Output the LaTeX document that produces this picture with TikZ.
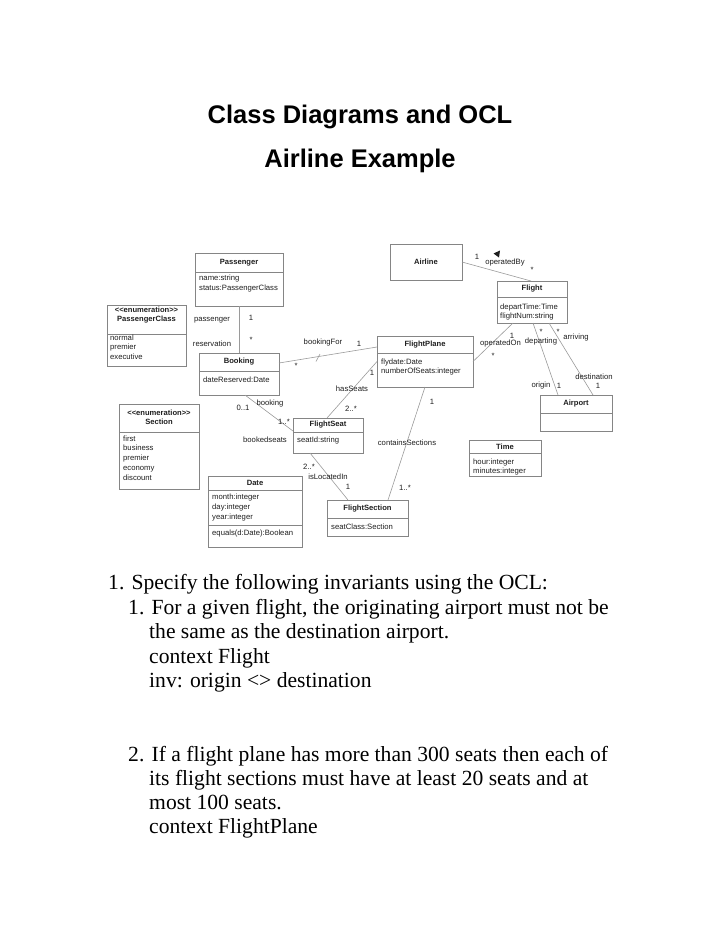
\documentclass[tikz,border=0pt]{standalone}
\usepackage{fontspec}
\setmainfont{Liberation Serif}
\newfontfamily\arialf{Liberation Sans}
\usetikzlibrary{calc}
\definecolor{boxgray}{HTML}{858585}
\definecolor{linegray}{HTML}{9A9A9A}
\definecolor{txt}{HTML}{1E1E1E}
\newcommand\uclass[6]{%
  \node[box, anchor=north west, minimum width={(#4)-(#2)}, minimum height={(#5)-(#3)}] (#1) at (#2,#3) {};
  \draw[sepline] (#2,#6) -- (#4,#6);}
\begin{document}
\begin{tikzpicture}[x=1pt,y=-1pt,
  box/.style={draw=boxgray, line width=0.7pt, inner sep=0pt, outer sep=0pt},
  sepline/.style={draw=boxgray, line width=0.7pt},
  cname/.style={font=\arialf\bfseries\fontsize{7.6}{9}\selectfont, text=txt, inner sep=0pt},
  attr/.style={font=\arialf\fontsize{7.7}{9.7}\selectfont, text=txt, inner sep=0pt, align=left, anchor=north west},
  lab/.style={font=\arialf\fontsize{7.7}{9}\selectfont, text=txt, inner sep=0pt},
  assoc/.style={draw=linegray, line width=0.6pt},
  body/.style={font=\fontsize{21.6}{24.5}\selectfont, text=black, inner sep=0pt, anchor=base west},
  ttl/.style={font=\arialf\bfseries\fontsize{25.5}{30}\selectfont, text=black, inner sep=0pt, anchor=base}
]
\useasboundingbox (0,0) rectangle (720,932);

% titles
\node[ttl] (title1) at (360,123) {Class Diagrams and OCL};
\node[ttl] (title2) at (360,167) {Airline Example};

% classes
\uclass{pass}{195}{253}{283}{306}{272}
\node[cname] (passT) at (239,262.5) {Passenger};
\node[attr] (passA) at (199,275) {name:string\\status:PassengerClass};

\uclass{pclass}{107}{305}{186}{366}{334}
\node[cname, align=center] (pclassT) at (146.5,315) {\bfseries<<enumeration>>\\PassengerClass};
\node[attr] (pclassA) at (110,334.5) {normal\\premier\\executive};

\uclass{book}{199}{353}{279}{395}{371}
\node[cname] (bookT) at (239,362) {Booking};
\node[attr] (bookA) at (203,376.5) {dateReserved:Date};

\uclass{airline}{390}{244}{462}{280}{280}
\node[cname] (airlineT) at (426,262) {Airline};

\uclass{fp}{377}{336}{473}{387}{353}
\node[cname] (fpT) at (425,345) {FlightPlane};
\node[attr] (fpA) at (381,358.5) {flydate:Date\\numberOfSeats:integer};

\uclass{flight}{497}{281}{567}{323}{297}
\node[cname] (flightT) at (532,289) {Flight};
\node[attr] (flightA) at (500,303.5) {departTime:Time\\flightNum:string};

\uclass{airport}{540}{395}{612}{431}{413}
\node[cname] (airportT) at (576,404) {Airport};

\uclass{time}{469}{440}{541}{476}{453}
\node[cname] (timeT) at (505,446.5) {Time};
\node[attr] (timeA) at (473,458.5) {hour:integer\\minutes:integer};

\uclass{section}{119}{404}{199}{489}{432}
\node[cname, align=center] (sectionT) at (159,417.5) {\bfseries<<enumeration>>\\Section};
\node[attr] (sectionA) at (123,435.5) {first\\business\\premier\\economy\\discount};

\uclass{date}{208}{476}{302}{547}{490}
\node[cname] (dateT) at (255,482.5) {Date};
\node[attr] (dateA) at (212,494) {month:integer\\day:integer\\year:integer};
\draw[sepline] (208,525) -- (302,525);
\node[attr] (dateM) at (212,529.5) {equals(d:Date):Boolean};

\uclass{seat}{293}{418}{363}{453}{432}
\node[cname] (seatT) at (328,424.5) {FlightSeat};
\node[attr] (seatA) at (297,436.5) {seatId:string};

\uclass{fsec}{327}{500}{408}{536}{518}
\node[cname] (fsecT) at (367.5,509) {FlightSection};
\node[attr] (fsecA) at (331,523.5) {seatClass:Section};

% associations
\draw[assoc] ($(pass.south west)+(44,0)$) -- ($(book.north west)+(40,0)$);
\node[lab] (l1) at (212,320) {passenger};
\node[lab] (l2) at (251,318) {1};
\node[lab] (l3) at (212,344) {reservation};
\node[lab] (l4) at (251,340) {*};

\draw[assoc] (airline.east) -- ($(flight.north west)+(34,0)$);
\node[lab] (l5) at (477,257) {1};
\node[lab] (l6) at (505,263) {operatedBy};
\node[lab] (l7) at (532,270) {*};
\fill[txt] (493.5,253.5) -- (500,250.5) -- (499,257.5) -- cycle;

\draw[assoc] ($(flight.south west)+(16,0)$) -- (fp.east);
\node[lab] (l8) at (512,336) {1};
\node[lab] (l9) at (500.5,344) {operatedOn};
\node[lab] (l10) at (493,356) {*};

\draw[assoc] ($(flight.south west)+(36,0)$) -- ($(airport.north west)+(18,0)$);
\node[lab] (l11) at (541,332) {*};
\node[lab] (l12) at (541,342) {departing};
\node[lab] (l13) at (541,386) {origin};
\node[lab] (l14) at (559,386) {1};

\draw[assoc] ($(flight.south west)+(52,0)$) -- ($(airport.north west)+(53,0)$);
\node[lab] (l15) at (558,332) {*};
\node[lab] (l16) at (576,338) {arriving};
\node[lab] (l17) at (594,377) {destination};
\node[lab] (l18) at (598,386) {1};

\draw[assoc] ($(book.north east)+(0,10)$) -- ($(fp.north west)+(0,11)$);
\draw[assoc] (316,361.5) -- (320,354);
\node[lab] (l19) at (323,343) {bookingFor};
\node[lab] (l20) at (359,344) {1};
\node[lab] (l21) at (296,366) {*};

\draw[assoc] (fp.west) -- ($(seat.north west)+(34,0)$);
\node[lab] (l22) at (372,373) {1};
\node[lab] (l23) at (352,389) {hasSeats};
\node[lab] (l24) at (351,409) {2..*};

\draw[assoc] ($(book.south west)+(46,0)$) -- ($(seat.north west)+(0,13)$);
\node[lab] (l25) at (243,408) {0..1};
\node[lab] (l26) at (270,404) {booking};
\node[lab] (l27) at (284,422) {1..*};
\node[lab] (l28) at (265,440) {bookedseats};

\draw[assoc] ($(seat.south west)+(17,0)$) -- ($(fsec.north west)+(21,0)$);
\node[lab] (l29) at (309,467) {2..*};
\node[lab] (l30) at (328,477) {isLocatedIn};
\node[lab] (l31) at (348,487) {1};

\draw[assoc] ($(fp.south west)+(48,0)$) -- ($(fsec.north west)+(61,0)$);
\node[lab] (l32) at (432,402) {1};
\node[lab] (l33) at (407,443) {containsSections};
\node[lab] (l34) at (405,488) {1..*};

% body text
\node[body] (t1) at (108,589) {1. Specify the following invariants using the OCL:};
\node[body] (t2) at (128,614) {1. For a given flight, the originating airport must not be};
\node[body] (t3) at (149,638) {the same as the destination airport.};
\node[body] (t4) at (149,663) {context Flight};
\node[body] (t5) at (149,687) {inv: origin <> destination};
\node[body] (t6) at (128,761) {2. If a flight plane has more than 300 seats then each of};
\node[body] (t7) at (149,785) {its flight sections must have at least 20 seats and at};
\node[body] (t8) at (149,809) {most 100 seats.};
\node[body] (t9) at (149,833) {context FlightPlane};
\end{tikzpicture}
\end{document}
